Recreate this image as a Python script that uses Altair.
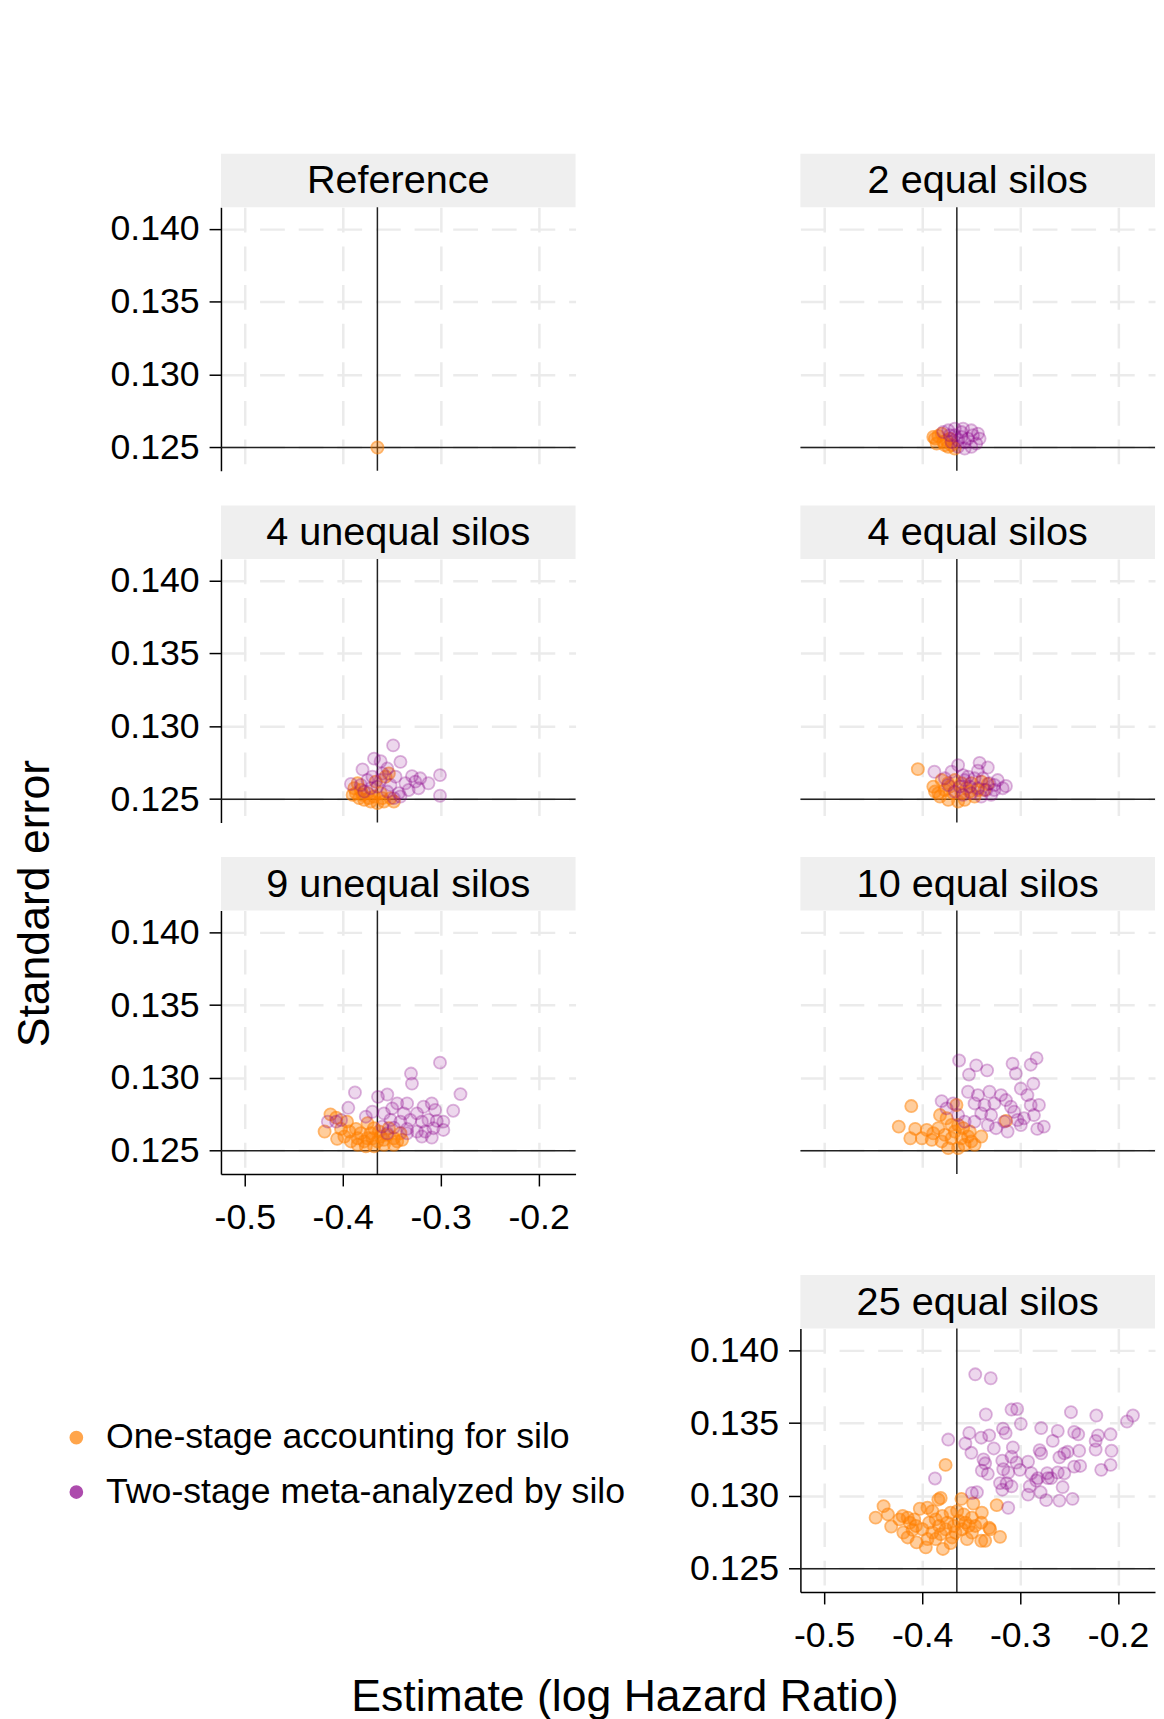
import altair as alt
import pandas as pd

FONT = "Liberation Sans"
PANELS = ["Reference", "2 equal silos", "4 unequal silos", "4 equal silos",
          "9 unequal silos", "10 equal silos", "25 equal silos"]
METHODS = ["One-stage accounting for silo", "Two-stage meta-analyzed by silo"]
COLORS = ["#FF7F00", "#8B008B"]
FILL_OPACITY = [0.55, 0.22]
STROKE_OPACITY = [0.8, 0.42]
X_TICKS = [-0.5, -0.4, -0.3, -0.2]
Y_TICKS = [0.125, 0.130, 0.135, 0.140]
X_DOMAIN = [-0.5243, -0.1623]
Y_DOMAIN = [0.12340, 0.14149]
REF_EST = -0.3646
REF_SE = 0.125

# ---------------- data ----------------
REF_ONE_X = [-0.3646]
REF_ONE_Y = [0.1250]

E2_ONE_X = [-0.3869, -0.3886, -0.3835, -0.3801, -0.3852, -0.3785, -0.3751, -0.3717, -0.3700, -0.3667, -0.3734, -0.3768]
E2_ONE_Y = [0.12561, 0.12572, 0.12579, 0.12595, 0.12527, 0.12538, 0.12550, 0.12561, 0.12516, 0.12493, 0.12505, 0.12516]
E2_TWO_X = [-0.3785, -0.3734, -0.3667, -0.3582, -0.3498, -0.3431, -0.3414, -0.3448, -0.3498, -0.3566,
            -0.3633, -0.3700, -0.3667, -0.3599, -0.3532, -0.3566, -0.3633, -0.3717, -0.3481, -0.3599]
E2_TWO_Y = [0.12606, 0.12618, 0.12629, 0.12629, 0.12618, 0.12595, 0.12561, 0.12527, 0.12505, 0.12493,
            0.12505, 0.12538, 0.12584, 0.12572, 0.12561, 0.12538, 0.12550, 0.12584, 0.12584, 0.12606]

U4_ONE_X = [-0.3865, -0.3882, -0.3832, -0.3781, -0.3714, -0.3646, -0.3579, -0.3512, -0.3747, -0.3815,
            -0.3680, -0.3613, -0.3562, -0.3529, -0.3848, -0.3663, -0.3899, -0.3478, -0.3596, -0.3731, -0.3798]
U4_ONE_Y = [0.12541, 0.12575, 0.12507, 0.12495, 0.12484, 0.12473, 0.12484, 0.12507, 0.12541, 0.12563,
            0.12518, 0.12541, 0.12654, 0.12676, 0.12609, 0.12620, 0.12529, 0.12484, 0.12507, 0.12507, 0.12529]
U4_TWO_X = [-0.3485, -0.3680, -0.3613, -0.3411, -0.3798, -0.3545, -0.3916, -0.3007, -0.3125, -0.3007,
            -0.3293, -0.3209, -0.3259, -0.3360, -0.3461, -0.3747, -0.3613, -0.3512, -0.3327, -0.3226,
            -0.3428, -0.3545, -0.3714, -0.3815, -0.3646, -0.3478, -0.3411, -0.3596, -0.3697, -0.3781]
U4_TWO_Y = [0.12869, 0.12778, 0.12760, 0.12756, 0.12704, 0.12710, 0.12604, 0.12665, 0.12609, 0.12523,
            0.12658, 0.12643, 0.12620, 0.12609, 0.12654, 0.12631, 0.12631, 0.12597, 0.12563, 0.12575,
            0.12541, 0.12552, 0.12575, 0.12597, 0.12586, 0.12507, 0.12518, 0.12676, 0.12654, 0.12552]

E4_ONE_X = [-0.4044, -0.3869, -0.3886, -0.3801, -0.3734, -0.3667, -0.3599, -0.3498, -0.3397, -0.3330,
            -0.3818, -0.3734, -0.3633, -0.3566, -0.3465, -0.3768, -0.3684, -0.3599, -0.3515, -0.3431,
            -0.3835, -0.3364, -0.3717, -0.3549]
E4_ONE_Y = [0.12706, 0.12552, 0.12586, 0.12631, 0.12609, 0.12631, 0.12609, 0.12609, 0.12620, 0.12604,
            0.12518, 0.12495, 0.12484, 0.12495, 0.12518, 0.12563, 0.12541, 0.12541, 0.12552, 0.12563,
            0.12541, 0.12563, 0.12586, 0.12575]
E4_TWO_X = [-0.3875, -0.3633, -0.3700, -0.3582, -0.3414, -0.3330, -0.3431, -0.3380, -0.3465, -0.3229,
            -0.3145, -0.3178, -0.3263, -0.3296, -0.3397, -0.3313, -0.3532, -0.3768, -0.3734, -0.3616,
            -0.3515, -0.3431, -0.3667, -0.3582, -0.3498, -0.3347, -0.3263, -0.3566]
E4_TWO_Y = [0.12688, 0.12733, 0.12688, 0.12665, 0.12749, 0.12717, 0.12695, 0.12643, 0.12643, 0.12631,
            0.12590, 0.12575, 0.12563, 0.12529, 0.12518, 0.12609, 0.12654, 0.12643, 0.12597, 0.12586,
            0.12586, 0.12575, 0.12552, 0.12529, 0.12541, 0.12563, 0.12597, 0.12631]

U9_ONE_X = [-0.4125, -0.4067, -0.3956, -0.4185, -0.4057, -0.3983, -0.3865, -0.3747, -0.3680, -0.3916,
            -0.3848, -0.3781, -0.3697, -0.3613, -0.3545, -0.3478, -0.3394, -0.3764, -0.3680, -0.3579,
            -0.3478, -0.3848, -0.3630, -0.3529, -0.3411, -0.3815, -0.3714, -0.3579, -0.3444, -0.3646,
            -0.3747, -0.3933, -0.4017]
U9_ONE_Y = [0.12750, 0.12727, 0.12700, 0.12632, 0.12582, 0.12598, 0.12650, 0.12689, 0.12655, 0.12564,
            0.12541, 0.12564, 0.12586, 0.12598, 0.12609, 0.12586, 0.12575, 0.12530, 0.12530, 0.12541,
            0.12541, 0.12586, 0.12632, 0.12655, 0.12620, 0.12620, 0.12620, 0.12575, 0.12564, 0.12564,
            0.12586, 0.12632, 0.12650]
U9_TWO_X = [-0.3007, -0.3303, -0.3293, -0.3875, -0.3640, -0.3545, -0.2798, -0.3943, -0.2872, -0.3764,
            -0.3444, -0.3343, -0.3495, -0.3175, -0.3091, -0.3057, -0.3242, -0.3377, -0.3579, -0.3697,
            -0.3512, -0.3411, -0.3310, -0.3192, -0.3125, -0.3040, -0.2973, -0.3074, -0.3158, -0.3242,
            -0.3091, -0.3192, -0.4152, -0.4067, -0.4017, -0.3596, -0.3478, -0.3343, -0.3545, -0.2973, -0.3343]
U9_TWO_Y = [0.13105, 0.13030, 0.12961, 0.12900, 0.12870, 0.12886, 0.12889, 0.12795, 0.12775, 0.12734,
            0.12825, 0.12825, 0.12791, 0.12802, 0.12825, 0.12780, 0.12757, 0.12757, 0.12757, 0.12768,
            0.12711, 0.12700, 0.12711, 0.12700, 0.12711, 0.12705, 0.12700, 0.12655, 0.12632, 0.12632,
            0.12591, 0.12598, 0.12700, 0.12700, 0.12711, 0.12666, 0.12659, 0.12650, 0.12620, 0.12643, 0.12620]

E10_ONE_X = [-0.4111, -0.4239, -0.4071, -0.4121, -0.4003, -0.3953, -0.3886, -0.3818, -0.3751, -0.3650,
             -0.3145, -0.3397, -0.3801, -0.3734, -0.3633, -0.3566, -0.3498, -0.3465, -0.3768, -0.3700,
             -0.3599, -0.3532, -0.3667, -0.3835, -0.3902, -0.3582, -0.3700, -0.3633, -0.3515]
E10_ONE_Y = [0.12807, 0.12666, 0.12650, 0.12586, 0.12586, 0.12643, 0.12620, 0.12745, 0.12723, 0.12814,
             0.12705, 0.12598, 0.12564, 0.12518, 0.12518, 0.12541, 0.12564, 0.12541, 0.12609, 0.12586,
             0.12586, 0.12598, 0.12632, 0.12655, 0.12575, 0.12655, 0.12677, 0.12677, 0.12632]
E10_TWO_X = [-0.3623, -0.3448, -0.3337, -0.3522, -0.3077, -0.2892, -0.2832, -0.3044, -0.2865, -0.3801,
             -0.3532, -0.3431, -0.3313, -0.3195, -0.2993, -0.2926, -0.2892, -0.2808, -0.3145, -0.3094,
             -0.3465, -0.3364, -0.3263, -0.3061, -0.2960, -0.2859, -0.2758, -0.2825, -0.2993, -0.3128,
             -0.3246, -0.3330, -0.3465, -0.3566, -0.3633, -0.3751, -0.3162, -0.3027, -0.3397, -0.3296, -0.3684]
E10_TWO_Y = [0.13120, 0.13086, 0.13052, 0.13023, 0.13098, 0.13091, 0.13136, 0.13030, 0.12961, 0.12841,
             0.12905, 0.12882, 0.12905, 0.12882, 0.12927, 0.12882, 0.12814, 0.12814, 0.12848, 0.12802,
             0.12825, 0.12814, 0.12825, 0.12768, 0.12723, 0.12745, 0.12666, 0.12650, 0.12677, 0.12632,
             0.12655, 0.12677, 0.12700, 0.12700, 0.12745, 0.12791, 0.12700, 0.12711, 0.12757, 0.12745, 0.12825]

E25_ONE_X = [-0.3761, -0.3811, -0.3835, -0.3599, -0.3478, -0.3239, -0.4394, -0.4350, -0.4475, -0.4316,
             -0.4199, -0.4148, -0.4081, -0.4024, -0.3946, -0.3896, -0.3929, -0.3862, -0.3795, -0.3710,
             -0.3643, -0.3576, -0.3492, -0.3391, -0.3397, -0.3316, -0.3205, -0.4192, -0.4148, -0.4057,
             -0.3963, -0.3946, -0.3862, -0.3788, -0.3710, -0.3660, -0.3677, -0.3761, -0.3593, -0.3542,
             -0.3492, -0.3397, -0.3357, -0.4064, -0.3997, -0.3828, -0.3744, -0.3626, -0.3559, -0.3458,
             -0.3896, -0.3694, -0.3811, -0.4098, -0.3306, -0.3525, -0.4232, -0.4125]
E25_ONE_Y = [0.13213, 0.12986, 0.12975, 0.12980, 0.12948, 0.12937, 0.12930, 0.12873, 0.12851, 0.12790,
             0.12862, 0.12851, 0.12839, 0.12912, 0.12919, 0.12896, 0.12817, 0.12839, 0.12862, 0.12885,
             0.12896, 0.12873, 0.12851, 0.12885, 0.12817, 0.12781, 0.12719, 0.12749, 0.12715, 0.12681,
             0.12647, 0.12704, 0.12704, 0.12636, 0.12676, 0.12749, 0.12794, 0.12771, 0.12771, 0.12704,
             0.12749, 0.12692, 0.12692, 0.12794, 0.12771, 0.12794, 0.12817, 0.12828, 0.12817, 0.12794,
             0.12749, 0.12715, 0.12738, 0.12767, 0.12771, 0.12794, 0.12839, 0.12817]
E25_TWO_X = [-0.3458, -0.3300, -0.3350, -0.3088, -0.3030, -0.2993, -0.2481, -0.2222, -0.1909, -0.1848,
             -0.3734, -0.3519, -0.3397, -0.3316, -0.3175, -0.3148, -0.3559, -0.3498, -0.3269, -0.3074,
             -0.2785, -0.2616, -0.2448, -0.2407, -0.2205, -0.2077, -0.2229, -0.2067, -0.2229, -0.2667,
             -0.2515, -0.2397, -0.2801, -0.2785, -0.2599, -0.2549, -0.3374, -0.3357, -0.3182, -0.3088,
             -0.3037, -0.2919, -0.3003, -0.2886, -0.2818, -0.2724, -0.2684, -0.2616, -0.2549, -0.2448,
             -0.2387, -0.2172, -0.2077, -0.3391, -0.3330, -0.3172, -0.3121, -0.3869, -0.3205, -0.3182,
             -0.3138, -0.3088, -0.2919, -0.2902, -0.2791, -0.2734, -0.2599, -0.2465, -0.2566, -0.3492,
             -0.3441, -0.3121, -0.2717, -0.2835]
E25_TWO_Y = [0.13835, 0.13808, 0.13559, 0.13593, 0.13597, 0.13495, 0.13575, 0.13552, 0.13511, 0.13552,
             0.13387, 0.13432, 0.13400, 0.13416, 0.13462, 0.13432, 0.13360, 0.13296, 0.13326, 0.13333,
             0.13466, 0.13446, 0.13439, 0.13423, 0.13416, 0.13423, 0.13378, 0.13310, 0.13319, 0.13378,
             0.13303, 0.13310, 0.13314, 0.13292, 0.13265, 0.13292, 0.13251, 0.13224, 0.13242, 0.13269,
             0.13229, 0.13235, 0.13179, 0.13156, 0.13122, 0.13156, 0.13122, 0.13161, 0.13156, 0.13201,
             0.13206, 0.13179, 0.13213, 0.13174, 0.13152, 0.13183, 0.13161, 0.13120, 0.13088, 0.13043,
             0.13088, 0.13066, 0.13009, 0.13066, 0.13025, 0.12971, 0.12968, 0.12980, 0.13061, 0.13020,
             0.13025, 0.12919, 0.13122, 0.13106]

SERIES = [
    ("Reference", REF_ONE_X, REF_ONE_Y, [], []),
    ("2 equal silos", E2_ONE_X, E2_ONE_Y, E2_TWO_X, E2_TWO_Y),
    ("4 unequal silos", U4_ONE_X, U4_ONE_Y, U4_TWO_X, U4_TWO_Y),
    ("4 equal silos", E4_ONE_X, E4_ONE_Y, E4_TWO_X, E4_TWO_Y),
    ("9 unequal silos", U9_ONE_X, U9_ONE_Y, U9_TWO_X, U9_TWO_Y),
    ("10 equal silos", E10_ONE_X, E10_ONE_Y, E10_TWO_X, E10_TWO_Y),
    ("25 equal silos", E25_ONE_X, E25_ONE_Y, E25_TWO_X, E25_TWO_Y),
]

rows = []
for name, ox, oy, tx, ty in SERIES:
    for a, b in zip(ox, oy):
        rows.append({"panel": name, "method": METHODS[0], "est": a, "se": b})
    for a, b in zip(tx, ty):
        rows.append({"panel": name, "method": METHODS[1], "est": a, "se": b})
df = pd.DataFrame(rows)

# ---------------- layout / style ----------------
PW, PH, STRIP_H = 358, 266, 54
TICK_FS, STRIP_FS, TITLE_FS, LEGEND_FS = 36, 40, 45, 36
GRID = dict(grid=True, gridColor="#EBEBEB", gridWidth=2.5, gridDash=[25, 14])
XLAB = "datum.value < 0 ? '-' + format(-datum.value, '.1f') : format(datum.value, '.1f')"

xscale = alt.Scale(domain=X_DOMAIN, nice=False, zero=False)
yscale = alt.Scale(domain=Y_DOMAIN, nice=False, zero=False)
cscale = alt.Scale(domain=METHODS, range=COLORS)
foscale = alt.Scale(domain=METHODS, range=FILL_OPACITY)
soscale = alt.Scale(domain=METHODS, range=STROKE_OPACITY)


def x_axis(mode):
    common = dict(values=X_TICKS, title=None, labelExpr=XLAB, labelFont=FONT,
                  labelFontSize=TICK_FS, labelColor="black", **GRID)
    if mode == "show":
        return alt.Axis(domain=True, domainColor="black", domainWidth=1.5,
                        ticks=True, tickColor="black", tickSize=12, tickWidth=1.5,
                        labels=True, labelPadding=15, **common)
    if mode == "ghost":
        return alt.Axis(domain=False, ticks=False, labels=True, labelOpacity=0,
                        labelPadding=33, **common)
    return alt.Axis(domain=False, ticks=False, labels=False, **common)


def y_axis(mode):
    common = dict(values=Y_TICKS, title=None, format=".3f", labelFont=FONT,
                  labelFontSize=TICK_FS, labelColor="black", **GRID)
    if mode == "show":
        return alt.Axis(domain=True, domainColor="black", domainWidth=1.5,
                        ticks=True, tickColor="black", tickSize=12, tickWidth=1.5,
                        labelPadding=10, **common)
    return alt.Axis(domain=False, ticks=False, labelOpacity=0, labelPadding=22, **common)


def make_legend():
    return alt.Legend(
        orient="none", legendX=-164, legendY=1224, title=None,
        labelFont=FONT, labelFontSize=LEGEND_FS, labelColor="black", labelLimit=800,
        symbolType="circle", symbolSize=150, symbolStrokeWidth=1.6,
        labelOffset=12, rowPadding=19, padding=0,
    )


def panel(name, ymode, xmode):
    sub = df[df.panel == name]
    xa, ya = x_axis(xmode), y_axis(ymode)
    lab = alt.Data(values=[{"label": name}])
    strip_bg = alt.Chart(lab).mark_rect(color="#EFEFEF").encode(
        x=alt.value(0), x2=alt.value(PW), y=alt.value(-STRIP_H), y2=alt.value(0))
    strip_tx = alt.Chart(lab).mark_text(font=FONT, fontSize=STRIP_FS, color="black",
                                        baseline="middle", align="center").encode(
        text="label:N", x=alt.value(PW / 2), y=alt.value(-STRIP_H / 2 + 1))
    hline = alt.Chart(alt.Data(values=[{"v": REF_SE}])).mark_rule(
        color="#222222", strokeWidth=1.5).encode(
        y=alt.Y("v:Q", scale=yscale, axis=ya))
    vline = alt.Chart(alt.Data(values=[{"v": REF_EST}])).mark_rule(
        color="#222222", strokeWidth=1.5).encode(
        x=alt.X("v:Q", scale=xscale, axis=xa))
    layers = [strip_bg, strip_tx, hline, vline]
    for m in METHODS:
        d = sub[sub.method == m]
        if len(d) == 0:
            continue
        pts = alt.Chart(d).mark_circle(size=150, strokeWidth=1.8).encode(
            x=alt.X("est:Q", scale=xscale, axis=xa),
            y=alt.Y("se:Q", scale=yscale, axis=ya),
            color=alt.Color("method:N", scale=cscale, legend=make_legend()),
            stroke=alt.Stroke("method:N", scale=cscale, legend=make_legend()),
            fillOpacity=alt.FillOpacity("method:N", scale=foscale, legend=make_legend()),
            strokeOpacity=alt.StrokeOpacity("method:N", scale=soscale, legend=make_legend()),
        )
        layers.append(pts)
    return alt.layer(*layers).properties(width=PW, height=PH)


placeholder = alt.Chart(alt.Data(values=[{"a": 0}])).mark_point(opacity=0).properties(
    width=10, height=10)

cells = [
    panel("Reference", "show", "none"),
    panel("2 equal silos", "ghost", "none"),
    panel("4 unequal silos", "show", "none"),
    panel("4 equal silos", "ghost", "none"),
    panel("9 unequal silos", "show", "show"),
    panel("10 equal silos", "ghost", "ghost"),
    placeholder,
    panel("25 equal silos", "show", "show"),
]

grid = alt.concat(*cells, columns=2, spacing={"row": 34, "column": 113}, align="each",
                  title=alt.TitleParams("Standard error", orient="left", anchor="middle",
                                        font=FONT, fontSize=TITLE_FS, fontWeight="normal",
                                        color="black", offset=53))

chart = alt.vconcat(grid, title=alt.TitleParams(
    "Estimate (log Hazard Ratio)", orient="bottom", anchor="middle", font=FONT,
    fontSize=TITLE_FS, fontWeight="normal", color="black", offset=22, dx=41)
).properties(
    padding={"left": 4, "top": 139, "right": 0, "bottom": 0},
    background="white",
).configure_view(stroke=None)

chart.save("out.html", embed_options={"renderer": "svg", "actions": False})
